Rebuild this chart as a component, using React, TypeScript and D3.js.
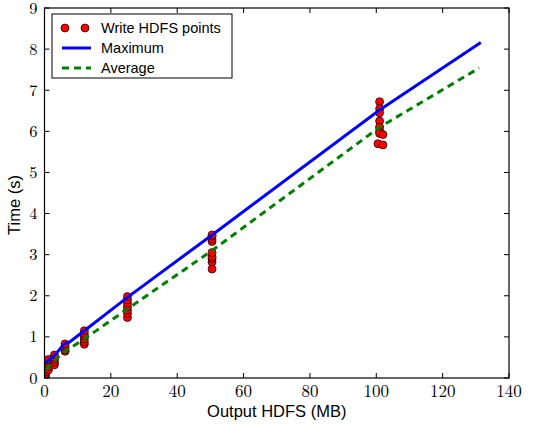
import React from "react";
import * as d3 from "d3";

const pointSizes = [
  0.3, 0.3, 0.3, 0.3, 0.3, 0.3,
  1.2, 1.2, 1.2, 1.2, 1.2,
  3, 3, 3, 3, 3,
  6.2, 6.2, 6.2, 6.2, 6.2,
  12, 12, 12, 12, 12, 12,
  25, 25, 25, 25, 25, 25, 25,
  50.5, 50.5, 50.5, 50.5, 50.5, 50.5, 50.5, 50.5, 50.5,
  101, 101, 101, 101, 101, 101, 101, 100.5, 102, 102,
];
const pointTimes = [
  0.05, 0.1, 0.15, 0.25, 0.32, 0.38,
  0.2, 0.28, 0.35, 0.42, 0.45,
  0.32, 0.38, 0.45, 0.5, 0.56,
  0.65, 0.68, 0.73, 0.78, 0.83,
  0.82, 0.88, 0.95, 1.02, 1.08, 1.15,
  1.47, 1.57, 1.65, 1.73, 1.82, 1.9, 1.98,
  2.65, 2.82, 2.9, 2.95, 3.05, 3.32, 3.38, 3.45, 3.48,
  6.72, 6.55, 6.45, 6.25, 6.1, 6.0, 5.95, 5.7, 5.92, 5.67,
];

const maxX = [0.5, 1.5, 3, 6, 7.5, 12, 25, 50.5, 101, 131.5];
const maxY = [0.38, 0.45, 0.55, 0.83, 0.87, 1.15, 1.96, 3.48, 6.52, 8.16];
const avgX = [0.5, 1.5, 3, 6, 12, 25, 50.5, 101, 131];
const avgY = [0.2, 0.3, 0.42, 0.64, 0.95, 1.68, 3.1, 6.1, 7.54];

const xTicks = [0, 20, 40, 60, 80, 100, 120, 140];
const yTicks = [0, 1, 2, 3, 4, 5, 6, 7, 8, 9];

const W = 539;
const H = 427;
const L = 44.5, R = 509, T = 8, B = 378;

export default function App() {
  const x = d3.scaleLinear().domain([0, 140]).range([L, R]);
  const y = d3.scaleLinear().domain([0, 9]).range([B, T]);
  const line = d3.line<[number, number]>().x(d => x(d[0])).y(d => y(d[1]));
  const maxPts = maxX.map((v, i) => [v, maxY[i]] as [number, number]);
  const avgPts = avgX.map((v, i) => [v, avgY[i]] as [number, number]);
  const serif = "'Latin Modern Roman', 'Liberation Serif', 'DejaVu Serif', serif";
  const sans = "'Liberation Sans', Arial, sans-serif";
  const tl = 5;
  return (
    <svg width={W} height={H} style={{ position: "absolute", left: 0, top: 0, background: "#fff" }}>
      <defs>
        <clipPath id="plot">
          <rect x={L} y={T} width={R - L} height={B - T} />
        </clipPath>
      </defs>
      <rect x={0} y={0} width={W} height={H} fill="#fff" />
      <g clipPath="url(#plot)">
        {pointSizes.map((s, i) => (
          <circle key={i} cx={x(s)} cy={y(pointTimes[i])} r={4} fill="#ff0000" stroke="#000" strokeWidth={0.7} />
        ))}
        <path d={line(maxPts) || ""} fill="none" stroke="#0000ff" strokeWidth={3} />
        <path d={line(avgPts) || ""} fill="none" stroke="#008000" strokeWidth={3} strokeDasharray="7,5" />
      </g>
      {xTicks.map(t => (
        <g key={"x" + t}>
          <line x1={x(t)} x2={x(t)} y1={B} y2={B - tl} stroke="#000" strokeWidth={1} />
          <line x1={x(t)} x2={x(t)} y1={T} y2={T + tl} stroke="#000" strokeWidth={1} />
          <text x={x(t)} y={B + 19} textAnchor="middle" fontFamily={serif} fontSize={17} fill="#000">{t}</text>
        </g>
      ))}
      {yTicks.map(t => (
        <g key={"y" + t}>
          <line x1={L} x2={L + tl} y1={y(t)} y2={y(t)} stroke="#000" strokeWidth={1} />
          <line x1={R} x2={R - tl} y1={y(t)} y2={y(t)} stroke="#000" strokeWidth={1} />
          <text x={L - 7} y={y(t) + 5.5} textAnchor="end" fontFamily={serif} fontSize={16.5} fill="#000">{t}</text>
        </g>
      ))}
      <rect x={L} y={T} width={R - L} height={B - T} fill="none" stroke="#000" strokeWidth={1.2} />
      <text x={(L + R) / 2} y={417} textAnchor="middle" fontFamily={sans} fontSize={16.5} fill="#000">Output HDFS (MB)</text>
      <text transform={`translate(20,205) rotate(-90)`} textAnchor="middle" fontFamily={sans} fontSize={16.5} fill="#000">Time (s)</text>
      <rect x={52} y={14} width={180} height={64} fill="#fff" stroke="#000" strokeWidth={1} />
      <circle cx={65} cy={28} r={4} fill="#ff0000" stroke="#000" strokeWidth={0.7} />
      <circle cx={85} cy={28} r={4} fill="#ff0000" stroke="#000" strokeWidth={0.7} />
      <text x={101} y={33} fontFamily={sans} fontSize={14.5} fill="#000">Write HDFS points</text>
      <line x1={62} x2={91} y1={48} y2={48} stroke="#0000ff" strokeWidth={3} />
      <text x={101} y={53} fontFamily={sans} fontSize={14.5} fill="#000">Maximum</text>
      <line x1={62} x2={91} y1={68} y2={68} stroke="#008000" strokeWidth={3} strokeDasharray="7,5" />
      <text x={101} y={73} fontFamily={sans} fontSize={14.5} fill="#000">Average</text>
    </svg>
  );
}
